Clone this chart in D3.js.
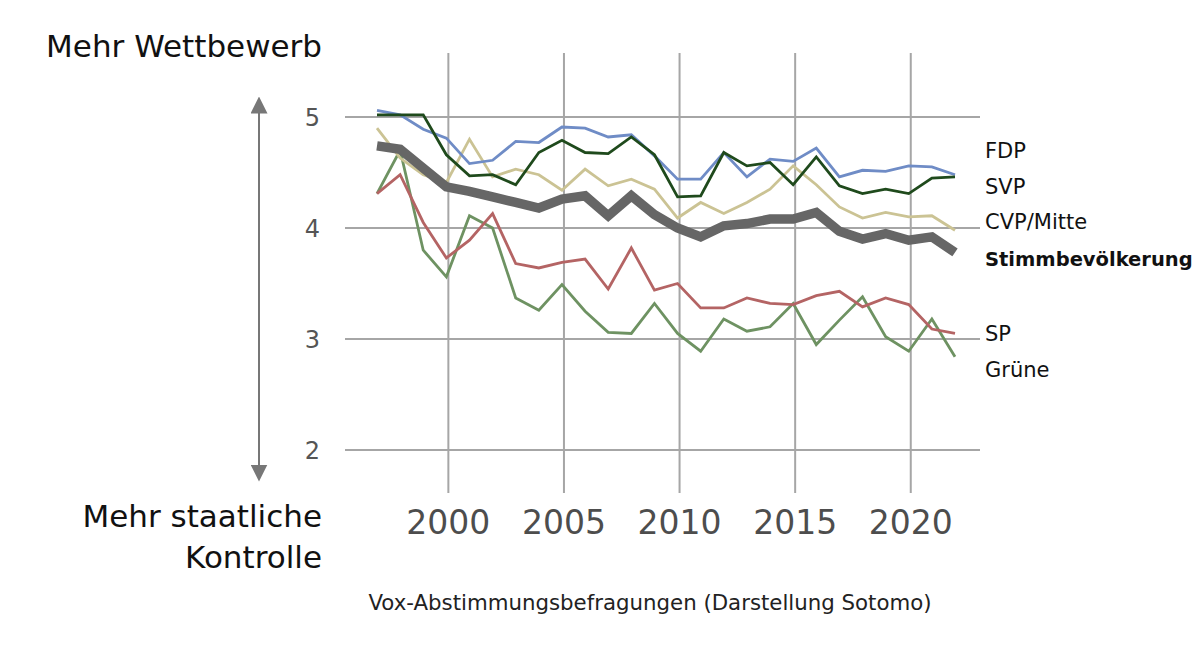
<!DOCTYPE html>
<html lang="de">
<head>
<meta charset="utf-8">
<title>Wettbewerb vs. staatliche Kontrolle</title>
<script src="https://cdn.jsdelivr.net/npm/d3@7"></script>
<style>
  body { margin: 0; background: #fff; }
  svg { display: block; font-family: "DejaVu Sans", "Liberation Sans", Arial, sans-serif; }
</style>
</head>
<body>
<div id="chart"></div>
<script>
// survey years
var years = d3.range(1997, 2023);

// mean position per group, 1 = staatliche Kontrolle ... 6 = Wettbewerb
var fdp    = [5.06, 5.02, 4.89, 4.81, 4.58, 4.61, 4.78, 4.77, 4.91, 4.90, 4.82, 4.84, 4.65, 4.44, 4.44, 4.68, 4.46, 4.62, 4.60, 4.72, 4.46, 4.52, 4.51, 4.56, 4.55, 4.48];
var svp    = [5.02, 5.02, 5.02, 4.66, 4.47, 4.48, 4.39, 4.68, 4.79, 4.68, 4.67, 4.82, 4.66, 4.28, 4.29, 4.68, 4.56, 4.59, 4.39, 4.64, 4.38, 4.31, 4.35, 4.31, 4.45, 4.46];
var cvp    = [4.90, 4.63, 4.48, 4.41, 4.80, 4.46, 4.53, 4.48, 4.34, 4.53, 4.38, 4.44, 4.35, 4.09, 4.23, 4.13, 4.23, 4.35, 4.56, 4.39, 4.19, 4.09, 4.14, 4.10, 4.11, 3.98];
var stimm  = [4.74, 4.71, 4.54, 4.37, 4.33, 4.28, 4.23, 4.18, 4.26, 4.29, 4.11, 4.29, 4.12, 4.00, 3.92, 4.02, 4.04, 4.08, 4.08, 4.14, 3.97, 3.90, 3.95, 3.89, 3.92, 3.78];
var sp     = [4.31, 4.48, 4.05, 3.73, 3.89, 4.13, 3.68, 3.64, 3.69, 3.72, 3.45, 3.82, 3.44, 3.50, 3.28, 3.28, 3.37, 3.32, 3.31, 3.39, 3.43, 3.29, 3.37, 3.31, 3.09, 3.05];
var gruene = [4.31, 4.70, 3.80, 3.56, 4.11, 4.00, 3.37, 3.26, 3.49, 3.25, 3.06, 3.05, 3.32, 3.05, 2.89, 3.18, 3.07, 3.11, 3.32, 2.95, 3.17, 3.38, 3.02, 2.89, 3.18, 2.84];

var xTicks = [2000, 2005, 2010, 2015, 2020];
var yTicks = [2, 3, 4, 5];

// drawing order: bottom first, Stimmbevoelkerung on top
var series = [
  { name: "Grüne",            values: gruene, color: "#6e9262", width: 2.8 },
  { name: "SP",               values: sp,     color: "#b46464", width: 2.8 },
  { name: "CVP/Mitte",        values: cvp,    color: "#cbc394", width: 2.8 },
  { name: "FDP",              values: fdp,    color: "#6f8cc6", width: 2.8 },
  { name: "SVP",              values: svp,    color: "#1f4a1c", width: 2.8 },
  { name: "Stimmbevölkerung", values: stimm,  color: "#666666", width: 9.5 }
];

// label placement on the right (in axis units)
var labels = [
  { text: "FDP",              at: 4.63, bold: false },
  { text: "SVP",              at: 4.31, bold: false },
  { text: "CVP/Mitte",        at: 3.99, bold: false },
  { text: "Stimmbevölkerung", at: 3.66, bold: true },
  { text: "SP",               at: 2.98, bold: false },
  { text: "Grüne",            at: 2.66, bold: false }
];

var W = 1200, H = 646;
var svg = d3.select("#chart").append("svg")
    .attr("width", W).attr("height", H);

var x = d3.scaleLinear().domain([1997, 2022]).range([377, 955]);
var y = d3.scaleLinear().domain([2, 5]).range([450, 117]);

var gridColor = "#a6a6a6";

// vertical grid
svg.append("g").selectAll("line")
    .data(xTicks).enter().append("line")
    .attr("x1", function(d) { return x(d) + 2; })
    .attr("x2", function(d) { return x(d) + 2; })
    .attr("y1", 53).attr("y2", 493)
    .attr("stroke", gridColor).attr("stroke-width", 2);

// horizontal grid
svg.append("g").selectAll("line")
    .data(yTicks).enter().append("line")
    .attr("x1", 345).attr("x2", 980)
    .attr("y1", function(d) { return y(d); })
    .attr("y2", function(d) { return y(d); })
    .attr("stroke", gridColor).attr("stroke-width", 2);

// tick labels
svg.append("g").selectAll("text")
    .data(yTicks).enter().append("text")
    .attr("x", 320).attr("y", function(d) { return y(d) + 9; })
    .attr("text-anchor", "end")
    .attr("font-size", 24).attr("fill", "#555")
    .text(function(d) { return d; });

svg.append("g").selectAll("text")
    .data(xTicks).enter().append("text")
    .attr("x", function(d) { return x(d) + 2; }).attr("y", 534)
    .attr("text-anchor", "middle")
    .attr("font-size", 33).attr("fill", "#4d4d4d")
    .text(function(d) { return d; });

// lines
var line = d3.line()
    .x(function(d, i) { return x(years[i]); })
    .y(function(d) { return y(d); });

svg.append("g").selectAll("path")
    .data(series).enter().append("path")
    .attr("d", function(s) { return line(s.values); })
    .attr("fill", "none")
    .attr("stroke", function(s) { return s.color; })
    .attr("stroke-width", function(s) { return s.width; })
    .attr("stroke-linejoin", "miter");

// series labels
svg.append("g").selectAll("text")
    .data(labels).enter().append("text")
    .attr("x", 985).attr("y", function(d) { return y(d.at); })
    .attr("font-size", function(d) { return d.bold ? 19.5 : 21; })
    .attr("font-weight", function(d) { return d.bold ? "bold" : "normal"; })
    .attr("fill", "#111")
    .text(function(d) { return d.text; });

// double arrow on the left
svg.append("defs").append("marker")
    .attr("id", "head")
    .attr("viewBox", "0 0 10 10")
    .attr("refX", 5).attr("refY", 5)
    .attr("markerWidth", 17).attr("markerHeight", 17)
    .attr("markerUnits", "userSpaceOnUse")
    .attr("orient", "auto-start-reverse")
    .append("path").attr("d", "M0,0 L10,5 L0,10 Z").attr("fill", "#777");

svg.append("line")
    .attr("x1", 259).attr("x2", 259)
    .attr("y1", 105).attr("y2", 473)
    .attr("stroke", "#777").attr("stroke-width", 2)
    .attr("marker-start", "url(#head)")
    .attr("marker-end", "url(#head)");

// axis titles
svg.append("text")
    .attr("x", 322).attr("y", 57)
    .attr("text-anchor", "end").attr("font-size", 31).attr("fill", "#111")
    .text("Mehr Wettbewerb");

var bottomTitle = svg.append("text")
    .attr("text-anchor", "end").attr("font-size", 31).attr("fill", "#111");
bottomTitle.append("tspan").attr("x", 322).attr("y", 527).text("Mehr staatliche");
bottomTitle.append("tspan").attr("x", 322).attr("y", 568).text("Kontrolle");

// source
svg.append("text")
    .attr("x", 650).attr("y", 610)
    .attr("text-anchor", "middle").attr("font-size", 21.3).attr("fill", "#222")
    .text("Vox-Abstimmungsbefragungen (Darstellung Sotomo)");
</script>
</body>
</html>
